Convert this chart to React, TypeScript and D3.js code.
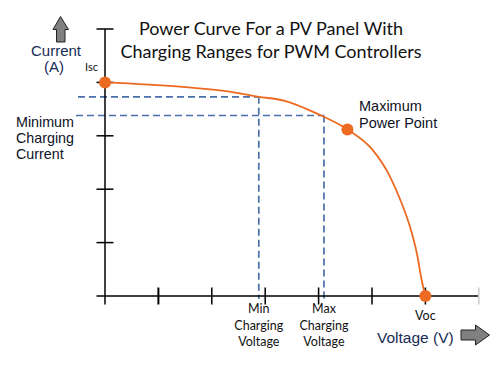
import * as d3 from "d3";

const xTicks = [0, 1, 2, 3, 4, 5, 6, 7];
const yTicks = [0, 1, 2, 3, 4, 5];

// voltage, current (in tick units)
const curveV = [0, 1.4, 2.3, 2.88, 3.35, 3.96, 4.54, 5.0, 5.33, 5.55, 5.71, 5.84, 5.93, 6.0];
const curveI = [4.0, 3.92, 3.83, 3.73, 3.66, 3.42, 3.12, 2.75, 2.25, 1.75, 1.3, 0.8, 0.3, 0];

const chargeV = [2.88, 4.1];
const chargeI = [3.73, 3.38];
const chargeLabels = [
  ["Min", "Charging", "Voltage"],
  ["Max", "Charging", "Voltage"],
];

const markerV = [0, 4.54, 6];
const markerI = [4.0, 3.12, 0];

const titleLines = ["Power Curve For a PV Panel With", "Charging Ranges for PWM Controllers"];

const W = 499,
  H = 371;
const orange = "#EC6A22";
const dashBlue = "#4A6FAA";
const navy = "#172B55";

export default function App() {
  const x = d3.scaleLinear().domain([0, 7]).range([105, 478.8]);
  const y = d3.scaleLinear().domain([0, 5]).range([296, 29]);
  const pts: [number, number][] = curveV.map((v, i) => [v, curveI[i]]);
  const line = d3
    .line<[number, number]>()
    .x((d) => x(d[0]))
    .y((d) => y(d[1]))
    .curve(d3.curveMonotoneX);
  const tick = 8.5;

  return (
    <svg
      width={W}
      height={H}
      style={{ position: "absolute", left: 0, top: 0, background: "#fff" }}
    >
      {/* title */}
      {titleLines.map((t, i) => (
        <text
          key={t}
          x={271}
          y={35 + i * 23}
          textAnchor="middle"
          fontFamily="Lato, 'Open Sans', sans-serif"
          fontSize={18}
          fill="#111"
        >
          {t}
        </text>
      ))}

      {/* dashed guides */}
      <g stroke={dashBlue} strokeWidth={1.7} strokeDasharray="7,4" fill="none">
        {chargeV.map((v, i) => (
          <g key={i}>
            <line x1={i === 0 ? 78 : 76} x2={x(v)} y1={y(chargeI[i])} y2={y(chargeI[i])} />
            <line x1={x(v)} x2={x(v)} y1={y(chargeI[i])} y2={y(0) + 3} />
          </g>
        ))}
      </g>

      {/* axes */}
      <g stroke="#000" strokeWidth={1.5}>
        <line x1={x(0)} x2={x(0)} y1={y(5)} y2={y(0) + tick} />
        <line x1={x(0) - tick} x2={x(7)} y1={y(0)} y2={y(0)} />
        {yTicks.slice(1).map((t) => (
          <line key={t} x1={x(0) - tick} x2={x(0) + tick} y1={y(t)} y2={y(t)} />
        ))}
        {xTicks.slice(1).map((t) => (
          <line
            key={t}
            x1={x(t)}
            x2={x(t)}
            y1={y(0) - tick}
            y2={y(0) + tick}
            stroke={t === 7 ? "#ccc" : "#000"}
            strokeWidth={t === 1 ? 2 : 1.5}
          />
        ))}
      </g>

      {/* power curve */}
      <path d={line(pts) ?? ""} fill="none" stroke={orange} strokeWidth={1.8} />
      {markerV.map((v, i) => (
        <circle key={i} cx={x(v)} cy={y(markerI[i])} r={6} fill={orange} />
      ))}

      {/* arrows */}
      <path
        d="M60.5,16.5 L68.5,29.5 L65,29.5 L65,42 L56.5,42 L56.5,29.5 L53,29.5 Z"
        fill="#808080"
        stroke="#222"
        strokeWidth={1}
      />
      <path
        d="M461,330 L475.5,330 L475.5,325 L489.5,335 L475.5,345 L475.5,340 L461,340 Z"
        fill="#808080"
        stroke="#222"
        strokeWidth={1}
      />

      {/* labels */}
      <g fontFamily="'Liberation Sans', Arial, sans-serif">
        <text x={56} y={55.5} textAnchor="middle" fontSize={15} fill={navy}>
          Current
        </text>
        <text x={54} y={72} textAnchor="middle" fontSize={15} fill={navy}>
          (A)
        </text>
        {["Minimum", "Charging", "Current"].map((t, i) => (
          <text key={t} x={16} y={126.5 + i * 16.3} fontSize={14.3} fill="#0d1326">
            {t}
          </text>
        ))}
        {["Maximum", "Power Point"].map((t, i) => (
          <text key={t} x={359} y={111 + i * 17} fontSize={14.5} fill="#0d1326">
            {t}
          </text>
        ))}
        <text x={377} y={343} fontSize={15.5} fill={navy}>
          Voltage (V)
        </text>
      </g>
      <g fontFamily="Lato, 'Open Sans', sans-serif" fill="#111">
        <text x={98} y={71} textAnchor="end" fontSize={11}>
          Isc
        </text>
        <text x={x(markerV[2])} y={320} textAnchor="middle" fontSize={12.5}>
          Voc
        </text>
        {chargeV.map((v, i) =>
          chargeLabels[i].map((t, j) => (
            <text key={i + t} x={x(v)} y={313 + j * 16.5} textAnchor="middle" fontSize={12.5}>
              {t}
            </text>
          ))
        )}
      </g>
    </svg>
  );
}
